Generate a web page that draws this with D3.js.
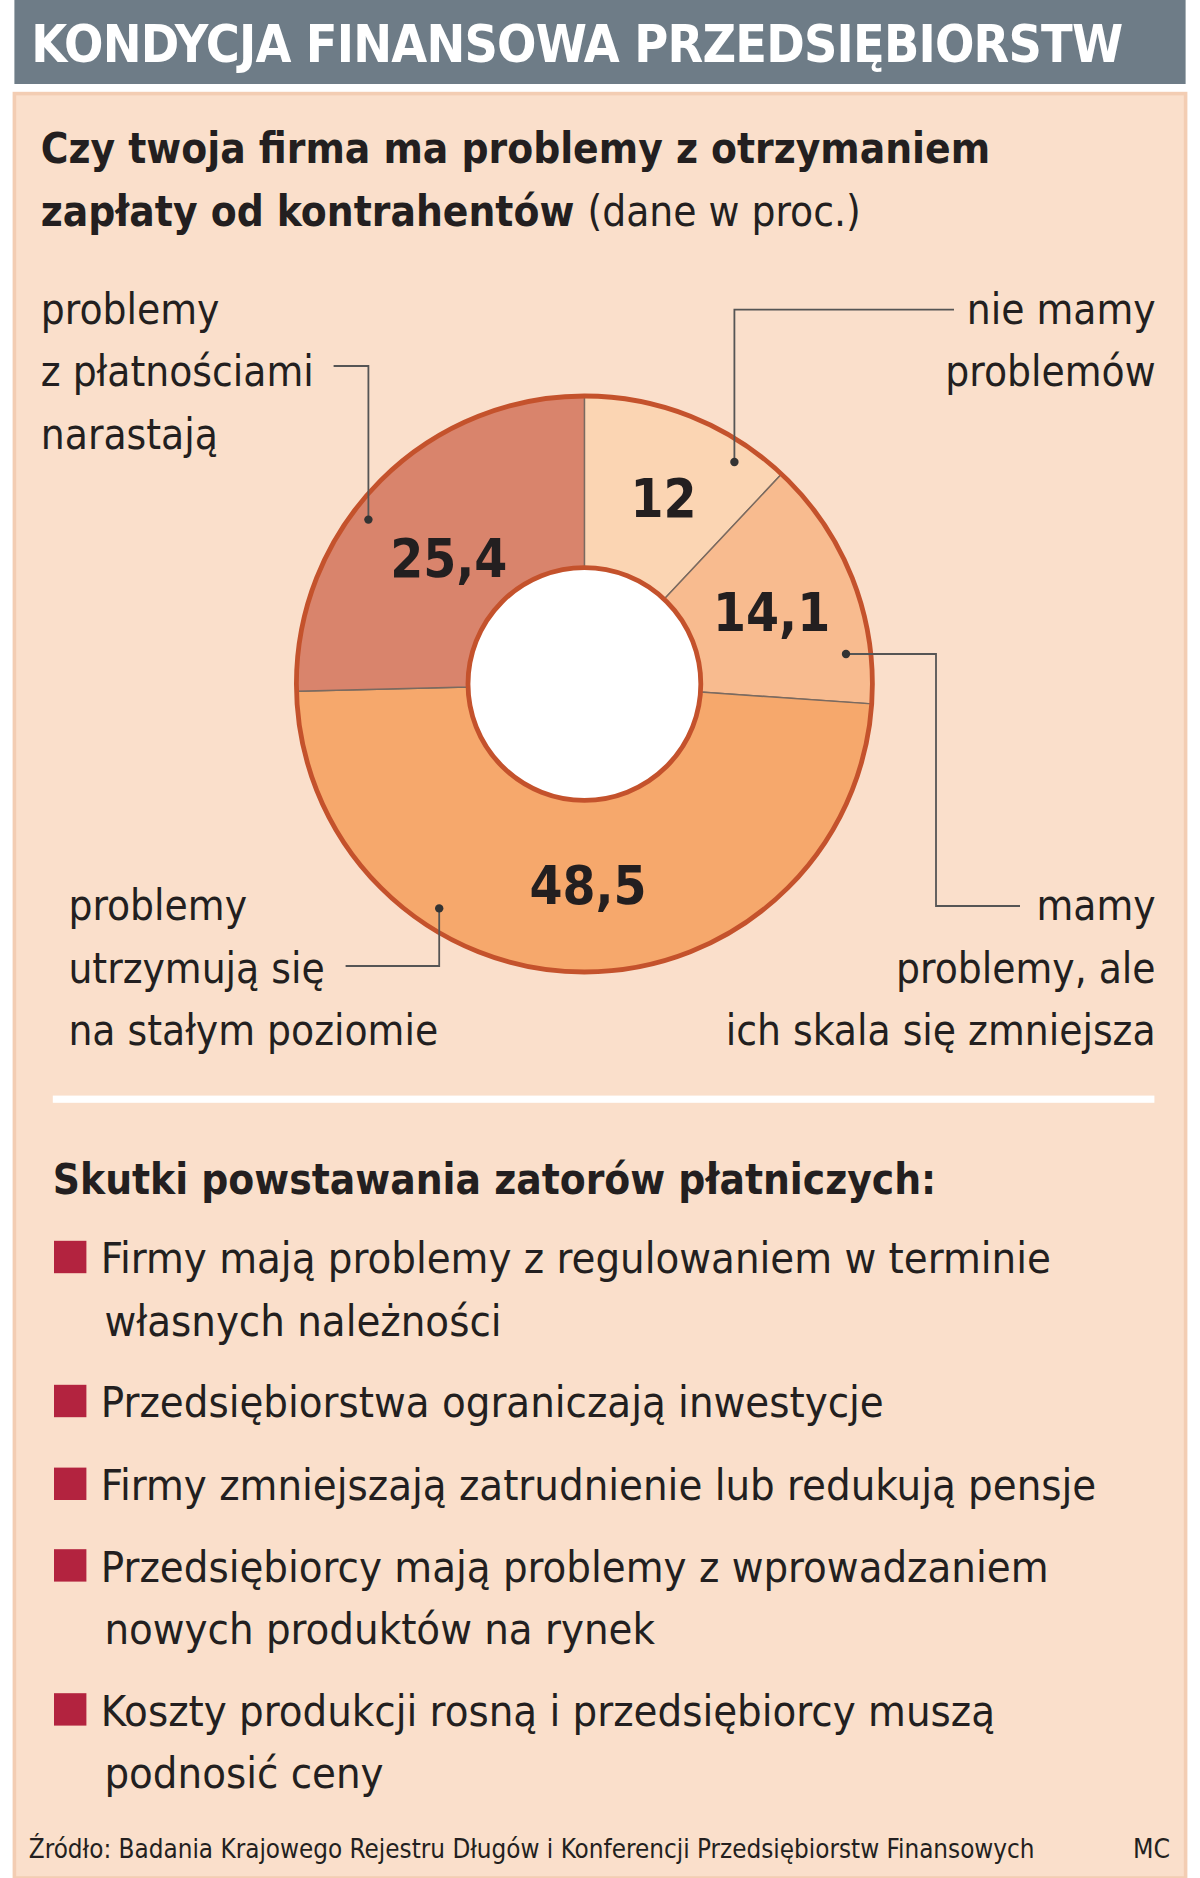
<!DOCTYPE html>
<html><head><meta charset="utf-8">
<script src="https://cdn.jsdelivr.net/npm/d3@7"></script>
<style>body{margin:0;background:#fff}svg{display:block}</style>
</head><body><div id="chart"></div>
<script>
const categories = ["nie mamy problemów", "mamy problemy, ale ich skala się zmniejsza", "problemy utrzymują się na stałym poziomie", "problemy z płatnościami narastają"]
const values = [12, 14.1, 48.5, 25.4]
const valueLabels = ["12", "14,1", "48,5", "25,4"]
const sliceColors = ["#fbd5b3", "#f8bb8f", "#f6a86c", "#d9846c"]
const effects = [
  ["Firmy mają problemy z regulowaniem w terminie", "własnych należności"],
  ["Przedsiębiorstwa ograniczają inwestycje"],
  ["Firmy zmniejszają zatrudnienie lub redukują pensje"],
  ["Przedsiębiorcy mają problemy z wprowadzaniem", "nowych produktów na rynek"],
  ["Koszty produkcji rosną i przedsiębiorcy muszą", "podnosić ceny"]
]

const font = "'Liberation Sans Narrow','DejaVu Sans Condensed',sans-serif"
const svg = d3.select("#chart").append("svg")
  .attr("width", 1200).attr("height", 1878)
  .attr("viewBox", "0 0 1000 1565")
  .style("font-family", font)

// panels
svg.append("rect").attr("x", 12).attr("y", 0).attr("width", 976).attr("height", 70).attr("fill", "#6e7c87")
svg.append("rect").attr("x", 12).attr("y", 78).attr("width", 976).attr("height", 1487).attr("fill", "#fadfcb")
  .attr("stroke", "#f3cdb3").attr("stroke-width", 3)
svg.append("text").attr("x", 26).attr("y", 52).attr("fill", "#fff")
  .attr("font-weight", "bold").attr("font-size", 43).attr("textLength", 910)
  .text("KONDYCJA FINANSOWA PRZEDSIĘBIORSTW")

const sub = svg.append("g").attr("font-size", 35).attr("fill", "#231f20")
sub.append("text").attr("x", 34).attr("y", 136).attr("font-weight", "bold").text("Czy twoja firma ma problemy z otrzymaniem")
const s2 = sub.append("text").attr("x", 34).attr("y", 188)
s2.append("tspan").attr("font-weight", "bold").text("zapłaty od kontrahentów ")
s2.append("tspan").text("(dane w proc.)")

// donut
const cx = 487, cy = 570, rOut = 240, rIn = 97
const g = svg.append("g").attr("transform", `translate(${cx},${cy})`)
const pie = d3.pie().sort(null).value(d => d)
const arcs = pie(values)
const arc = d3.arc().innerRadius(rIn).outerRadius(rOut)
g.selectAll("path.slice").data(arcs).join("path").attr("class", "slice")
  .attr("d", arc).attr("fill", (d, i) => sliceColors[i])
  .attr("stroke", "#7a6a60").attr("stroke-width", 1.2)
g.append("circle").attr("r", rOut).attr("fill", "none").attr("stroke", "#c4522c").attr("stroke-width", 4)
g.append("circle").attr("r", rIn).attr("fill", "#fff").attr("stroke", "#c4522c").attr("stroke-width", 4)

const labelPos = [[553, 415], [643, 510], [490, 737], [374, 465]]
svg.selectAll("text.val").data(valueLabels).join("text").attr("class", "val")
  .attr("x", (d, i) => labelPos[i][0]).attr("y", (d, i) => labelPos[i][1] + 16)
  .attr("text-anchor", "middle").attr("font-weight", "bold").attr("font-size", 44)
  .attr("fill", "#231f20").text(d => d)

// leaders
const lead = svg.append("g").attr("fill", "none").attr("stroke", "#555").attr("stroke-width", 1.5)
const dots = [[612, 385], [705, 545], [366, 757], [307, 433]]
lead.append("path").attr("d", "M612,385V258H795")
lead.append("path").attr("d", "M705,545H780V755H850")
lead.append("path").attr("d", "M366,757V805H288")
lead.append("path").attr("d", "M307,433V305H278")
svg.selectAll("circle.dot").data(dots).join("circle").attr("class", "dot")
  .attr("cx", d => d[0]).attr("cy", d => d[1]).attr("r", 3.5).attr("fill", "#333")

const lab = svg.append("g").attr("font-size", 35).attr("fill", "#231f20")
function lines(x, y, arr, anchor) {
  arr.forEach((t, i) => lab.append("text").attr("x", x).attr("y", y + i * 52).attr("text-anchor", anchor).text(t))
}
lines(963, 270, ["nie mamy", "problemów"], "end")
lines(34, 270, ["problemy", "z płatnościami", "narastają"], "start")
lines(963, 767, ["mamy", "problemy, ale", "ich skala się zmniejsza"], "end")
lines(57, 767, ["problemy", "utrzymują się", "na stałym poziomie"], "start")

svg.append("rect").attr("x", 44).attr("y", 913).attr("width", 918).attr("height", 6).attr("fill", "#fff")

svg.append("text").attr("x", 44).attr("y", 995).attr("font-weight", "bold").attr("font-size", 35)
  .attr("fill", "#231f20").text("Skutki powstawania zatorów płatniczych:")

const starts = [1048, 1168, 1237, 1305, 1425]
effects.forEach((ls, i) => {
  svg.append("rect").attr("x", 45).attr("y", starts[i] - 14).attr("width", 27).attr("height", 27).attr("fill", "#b3233f")
  ls.forEach((t, j) => svg.append("text").attr("x", j ? 87 : 84).attr("y", starts[i] + 13 + j * 52)
    .attr("font-size", 36).attr("fill", "#231f20").text(t))
})

svg.append("text").attr("x", 24).attr("y", 1548).attr("font-size", 21.5).attr("fill", "#231f20")
  .text("Źródło: Badania Krajowego Rejestru Długów i Konferencji Przedsiębiorstw Finansowych")
svg.append("text").attr("x", 975).attr("y", 1548).attr("font-size", 22).attr("text-anchor", "end").attr("fill", "#231f20").text("MC")
</script></body></html>
